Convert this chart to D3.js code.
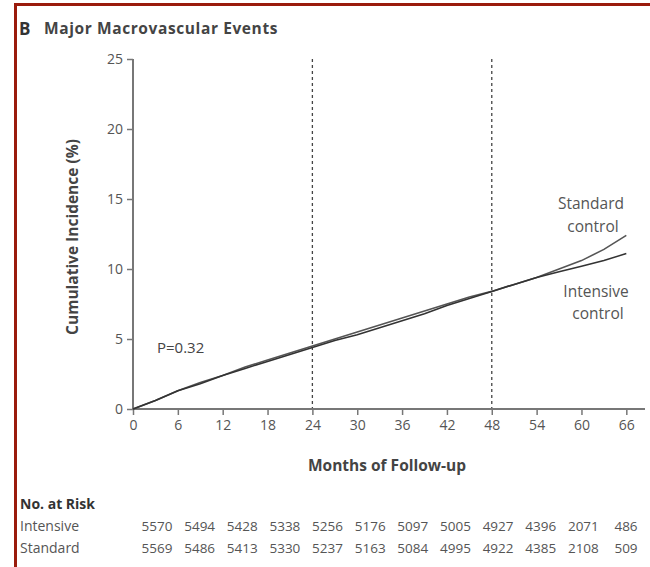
<!DOCTYPE html>
<html>
<head>
<meta charset="utf-8">
<script src="https://cdn.jsdelivr.net/npm/d3@7"></script>
<style>
  body { margin: 0; background: #fff; }
  svg { display: block; }
  text { font-family: "Open Sans", "Liberation Sans", sans-serif; }
</style>
</head>
<body>
<div id="chart"></div>
<script>
// data
const months = [0, 3, 6, 9, 12, 15, 18, 21, 24, 27, 30, 33, 36, 39, 42, 45, 48, 51, 54, 57, 60, 63, 66];
const intensive = [0, 0.6, 1.3, 1.8, 2.4, 2.9, 3.4, 3.9, 4.4, 4.9, 5.3, 5.8, 6.3, 6.8, 7.4, 7.9, 8.4, 8.9, 9.4, 9.8, 10.2, 10.6, 11.1];
const standard = [0, 0.6, 1.3, 1.9, 2.4, 3.0, 3.5, 4.0, 4.5, 5.0, 5.5, 6.0, 6.5, 7.0, 7.5, 8.0, 8.4, 8.9, 9.4, 10.0, 10.6, 11.4, 12.4];

const xTicks = [0, 6, 12, 18, 24, 30, 36, 42, 48, 54, 60, 66];
const yTicks = [0, 5, 10, 15, 20, 25];
const dashedAt = [24, 48];

const riskLabels = ["Intensive", "Standard"];
const riskIntensive = [5570, 5494, 5428, 5338, 5256, 5176, 5097, 5005, 4927, 4396, 2071, 486];
const riskStandard = [5569, 5486, 5413, 5330, 5237, 5163, 5084, 4995, 4922, 4385, 2108, 509];

const width = 650, height = 567;

const svg = d3.select("#chart").append("svg")
    .attr("width", width)
    .attr("height", height);

// red frame (top + left)
svg.append("path")
    .attr("d", "M15.5,567 V4.5 H650")
    .attr("fill", "none")
    .attr("stroke", "#9a1b0c")
    .attr("stroke-width", 3);

svg.append("text")
    .attr("x", 19).attr("y", 35)
    .attr("font-size", 17).attr("font-weight", "bold").attr("fill", "#333")
    .text("B");
svg.append("text")
    .attr("x", 44).attr("y", 34)
    .attr("font-size", 15.5).attr("font-weight", "bold").attr("fill", "#444")
    .attr("letter-spacing", 0.6)
    .text("Major Macrovascular Events");

const x = d3.scaleLinear().domain([0, 68.5]).range([133, 645]);
const y = d3.scaleLinear().domain([0, 25]).range([409, 59]);

// dashed reference lines
svg.selectAll(".ref")
    .data(dashedAt)
    .enter().append("line")
    .attr("class", "ref")
    .attr("x1", d => x(d)).attr("x2", d => x(d))
    .attr("y1", y(25)).attr("y2", y(0))
    .attr("stroke", "#444")
    .attr("stroke-width", 1.3)
    .attr("stroke-dasharray", "3,3");

// axes
const axisColor = "#777";
const xAxis = svg.append("g")
    .attr("transform", `translate(0,${y(0)})`)
    .call(d3.axisBottom(x).tickValues(xTicks).tickSize(6).tickPadding(5).tickFormat(d3.format("d")));
xAxis.select(".domain").remove();
svg.append("line")
    .attr("x1", x(0)).attr("x2", x(68.5))
    .attr("y1", y(0)).attr("y2", y(0))
    .attr("stroke", axisColor).attr("stroke-width", 2);

const yAxis = svg.append("g")
    .attr("transform", `translate(${x(0)},0)`)
    .call(d3.axisLeft(y).tickValues(yTicks).tickSize(6).tickPadding(4));
yAxis.select(".domain").remove();
svg.append("line")
    .attr("x1", x(0)).attr("x2", x(0))
    .attr("y1", y(0)).attr("y2", y(25))
    .attr("stroke", axisColor).attr("stroke-width", 2);

[xAxis, yAxis].forEach(g => {
    g.selectAll(".tick line").attr("stroke", axisColor).attr("stroke-width", 1.5);
    g.selectAll(".tick text")
        .attr("fill", "#555")
        .attr("font-size", 14)
        .style("font-family", "\"Open Sans\", \"Liberation Sans\", sans-serif");
});

svg.append("text")
    .attr("transform", `translate(78,${(y(0) + y(25)) / 2 + 3}) rotate(-90)`)
    .attr("text-anchor", "middle")
    .attr("font-size", 15.5).attr("font-weight", "bold").attr("fill", "#444")
    .text("Cumulative Incidence (%)");

svg.append("text")
    .attr("x", 387).attr("y", 471)
    .attr("text-anchor", "middle")
    .attr("font-size", 15.5).attr("font-weight", "bold").attr("fill", "#444")
    .text("Months of Follow-up");

// curves
const line = d3.line()
    .x((d, i) => x(months[i]))
    .y(d => y(d));

svg.append("path")
    .datum(standard)
    .attr("d", line)
    .attr("fill", "none")
    .attr("stroke", "#555")
    .attr("stroke-width", 1.6);

svg.append("path")
    .datum(intensive)
    .attr("d", line)
    .attr("fill", "none")
    .attr("stroke", "#333")
    .attr("stroke-width", 1.6);

svg.append("text")
    .attr("x", 157).attr("y", 353)
    .attr("font-size", 15).attr("fill", "#444")
    .text("P=0.32");

const labelStyle = sel => sel.attr("font-size", 15.5).attr("fill", "#555").attr("text-anchor", "middle");
svg.append("text").attr("x", 591).attr("y", 209).call(labelStyle).text("Standard");
svg.append("text").attr("x", 593).attr("y", 232).call(labelStyle).text("control");
svg.append("text").attr("x", 596).attr("y", 297).call(labelStyle).text("Intensive");
svg.append("text").attr("x", 598).attr("y", 319).call(labelStyle).text("control");

// number at risk table
svg.append("text")
    .attr("x", 20).attr("y", 509)
    .attr("font-size", 14).attr("font-weight", "bold").attr("fill", "#333")
    .text("No. at Risk");

const col = d3.scalePoint().domain(d3.range(riskIntensive.length)).range([157, 626]);
const rowY = d3.scalePoint().domain(riskLabels).range([531, 553]);

[riskIntensive, riskStandard].forEach((row, r) => {
    const ry = rowY(riskLabels[r]);
    svg.append("text")
        .attr("x", 20).attr("y", ry)
        .attr("font-size", 14).attr("fill", "#555")
        .text(riskLabels[r]);
    svg.selectAll(null)
        .data(row)
        .enter().append("text")
        .attr("x", (d, i) => col(i))
        .attr("y", ry)
        .attr("text-anchor", "middle")
        .attr("font-size", 13.5).attr("fill", "#555")
        .text(d => d);
});
</script>
</body>
</html>
